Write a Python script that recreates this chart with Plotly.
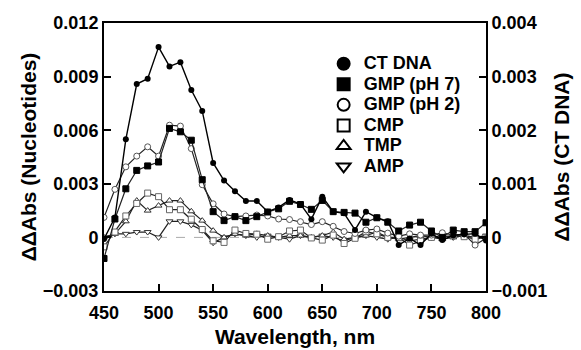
import plotly.graph_objects as go

wavelength = list(range(450, 801, 10))

# CT DNA plotted against right axis (ΔΔAbs CT DNA)
ct_dna = [-0.00003, 0.00037, 0.00183, 0.00286, 0.00296, 0.00355, 0.00319, 0.00327, 0.00275, 0.00236,
          0.00139, 0.00106, 0.00086, 0.00068, 0.00068, 0.00048, 0.00056, 0.00070, 0.00062, 0.00034,
          0.00076, 0.00048, 0.00045, 0.00014, 0.00048, 0.00037, 0.00030, -0.00014, -0.00002, -0.00014,
          0.00007, -0.00005, 0.00004, 0.00006, 0.00007, -0.00006]

# Nucleotides (left axis), in units of 1e-3
gmp_ph7 = [-1.18, 1.03, 2.72, 3.75, 4.0, 4.22, 6.1, 5.91, 5.44, 3.23,
           1.44, 0.94, 1.16, 0.94, 1.16, 1.42, 1.6, 2.02, 1.84, 1.57,
           2.07, 1.44, 1.4, 1.36, 0.85, 1.1, 0.85, 0.36, 0.69, 0.85,
           0.36, 0.0, 0.41, 0.32, 0.32, 0.82]
gmp_ph2 = [1.12, 2.69, 3.95, 4.55, 5.07, 4.55, 6.28, 6.23, 4.97, 2.95,
           1.88, 1.31, 1.16, 1.2, 1.25, 1.2, 1.03, 1.0, 0.88, 0.72,
           0.88, 0.62, 0.33, 0.22, 0.41, 0.47, 0.24, 0.07, 0.2, 0.13,
           0.13, 0.26, 0.13, 0.19, -0.43, -0.05]
cmp = [-0.53, 0.3, 1.2, 1.9, 2.48, 2.28, 1.55, 1.55, 1.02, 0.44,
       -0.19, -0.28, 0.41, 0.22, 0.18, -0.1, 0.04, 0.36, 0.41, -0.03,
       -0.15, 0.13, -0.34, -0.05, 0.32, 0.2, 0.0, 0.0, -0.43, -0.2,
       0.0, 0.0, 0.13, 0.04, -0.1, 0.0]
tmp = [0.0, 0.2, 0.9, 2.06, 1.5, 1.78, 2.06, 2.06, 1.46, 0.94,
       0.38, 0.0, 0.2, 0.1, 0.2, 0.1, 0.0, 0.1, 0.1, 0.0,
       0.1, 0.3, -0.1, 0.0, 0.1, 0.3, 0.0, -0.1, 0.0, 0.1,
       0.0, -0.1, 0.0, 0.1, 0.0, 0.0]
amp = [0.0, 0.2, 0.2, 0.3, 0.3, 0.0, 0.9, 0.9, 0.7, 0.4,
       -0.3, 0.0, 0.2, 0.1, 0.0, 0.1, 0.0, -0.1, 0.1, 0.0,
       0.1, 0.0, -0.2, 0.0, 0.1, 0.0, -0.1, 0.0, -0.2, -0.1,
       0.0, 0.1, 0.0, 0.1, 0.0, 0.1]

left_ticks = [-0.003, 0, 0.003, 0.006, 0.009, 0.012]
left_labels = ["\u22120.003", "0", "0.003", "0.006", "0.009", "0.012"]
right_ticks = [-0.001, 0, 0.001, 0.002, 0.003, 0.004]
right_labels = ["\u22120.001", "0", "0.001", "0.002", "0.003", "0.004"]
x_ticks = [450, 500, 550, 600, 650, 700, 750, 800]

FONT = "Liberation Sans, Arial, sans-serif"

fig = go.Figure()

# dashed zero reference line
fig.add_trace(go.Scatter(x=[wavelength[0], wavelength[-1]], y=[0, 0], mode="lines",
                         line=dict(color="#aaaaaa", width=1, dash="dash"),
                         showlegend=False, hoverinfo="skip"))

series = [
    ("AMP", amp, "triangle-down", "white", "#333333", 6),
    ("TMP", tmp, "triangle-up", "white", "#333333", 6),
    ("CMP", cmp, "square", "white", "#666666", 6),
    ("GMP (pH 2)", gmp_ph2, "circle", "white", "#555555", 6),
    ("GMP (pH 7)", gmp_ph7, "square", "black", "black", 6),
]
for name, vals, sym, fill, edge, size in series:
    fig.add_trace(go.Scatter(
        x=wavelength, y=[v / 1000 for v in vals], mode="lines+markers", name=name,
        line=dict(color="#222222", width=1.2),
        marker=dict(symbol=sym, color=fill, size=size, line=dict(color=edge, width=1)),
        showlegend=False))

fig.add_trace(go.Scatter(
    x=wavelength, y=ct_dna, mode="lines+markers", name="CT DNA", yaxis="y2",
    line=dict(color="black", width=1.4),
    marker=dict(symbol="circle", color="black", size=6),
    showlegend=False))

# legend entries (markers only)
legend_items = [
    ("CT DNA", "circle", "black", "black"),
    ("GMP (pH 7)", "square", "black", "black"),
    ("GMP (pH 2)", "circle", "white", "black"),
    ("CMP", "square", "white", "black"),
    ("TMP", "triangle-up", "white", "black"),
    ("AMP", "triangle-down", "white", "black"),
]
for name, sym, fill, edge in legend_items:
    fig.add_trace(go.Scatter(x=[None], y=[None], mode="markers",
                             name='<span style="font-size:18px">' + name + '</span>',
                             marker=dict(symbol=sym, color=fill, size=10,
                                         line=dict(color=edge, width=1.5))))

axis_common = dict(showline=True, linecolor="black", linewidth=2, ticks="inside",
                   ticklen=7, tickwidth=1.5, tickcolor="black", showgrid=False,
                   zeroline=False, automargin=False,
                   tickfont=dict(family=FONT, size=18, color="black", weight="bold"))
title_font = dict(family=FONT, size=21, color="black", weight="bold")

fig.update_layout(
    width=581, height=350,
    margin=dict(l=104, r=95, t=23, b=59),
    paper_bgcolor="white", plot_bgcolor="white",
    font=dict(family=FONT, color="black", weight="bold"),
    xaxis=dict(range=[450, 800], tickvals=x_ticks, mirror=True, ticklabelstandoff=4,
               title=dict(text="Wavelength, nm", standoff=8, font=title_font),
               **axis_common),
    yaxis=dict(range=[-0.003, 0.012], tickvals=left_ticks, ticktext=left_labels,
               title=dict(text="\u0394\u0394Abs (Nucleotides)", standoff=0, font=title_font),
               **axis_common),
    yaxis2=dict(range=[-0.001, 0.004], tickvals=right_ticks, ticktext=right_labels,
                overlaying="y", side="right",
                title=dict(text="\u0394\u0394Abs (CT DNA)", standoff=8, font=title_font),
                **axis_common),
    legend=dict(x=0.575, y=0.905, xanchor="left", yanchor="top",
                bgcolor="rgba(0,0,0,0)", borderwidth=0,
                font=dict(family=FONT, size=13.5, color="black", weight="bold"),
                itemsizing="constant", tracegroupgap=0),
    showlegend=True,
)

fig.write_html("out.html", config={"displayModeBar": False},
               post_script="document.body.style.margin='0';")
